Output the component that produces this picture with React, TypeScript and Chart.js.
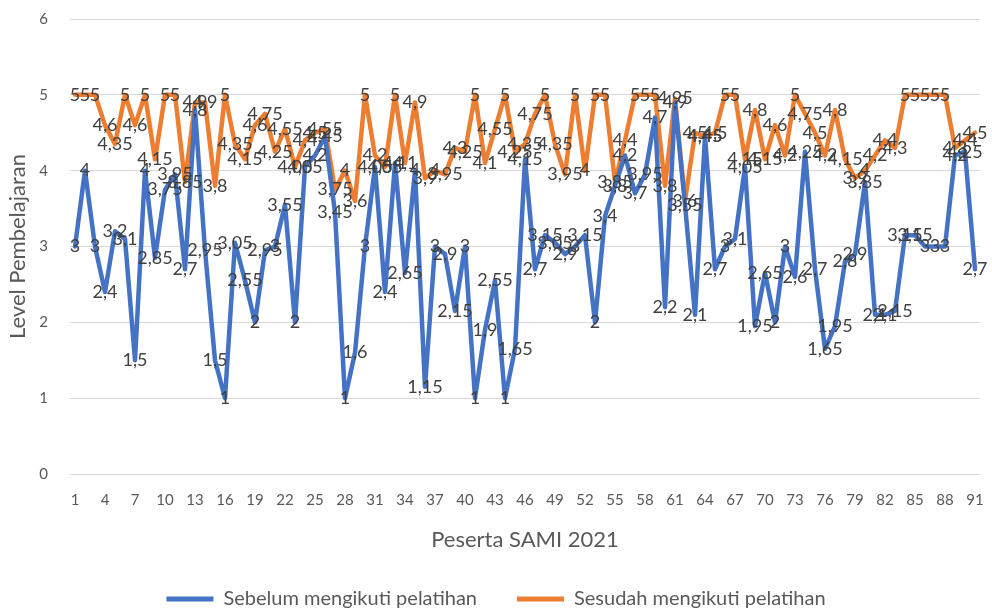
import React, { useEffect, useRef } from "react";
import { Chart, registerables } from "chart.js";

Chart.register(...registerables);

const categories: string[] = Array.from({ length: 91 }, (_, i) => String(i + 1));

const sebelum: number[] = [
  3, 4, 3, 2.4, 3.2, 3.1, 1.5, 4, 2.85, 3.75,
  3.95, 2.7, 4.8, 2.95, 1.5, 1, 3.05, 2.55, 2, 2.95,
  3, 3.55, 2, 4.05, 4.2, 4.45, 3.45, 1, 1.6, 3,
  4.05, 2.4, 4.1, 2.65, 4, 1.15, 3, 2.9, 2.15, 3,
  1, 1.9, 2.55, 1, 1.65, 4.15, 2.7, 3.15, 3.05, 2.9,
  3, 3.15, 2, 3.4, 3.8, 4.2, 3.7, 3.95, 4.7, 2.2,
  4.9, 3.55, 2.1, 4.45, 2.7, 3, 3.1, 4.05, 1.95, 2.65,
  2, 3, 2.6, 4.25, 2.7, 1.65, 1.95, 2.8, 2.9, 3.85,
  2.1, 2.1, 2.15, 3.15, 3.15, 3, 3, 3, 4.2, 4.25,
  2.7,
];

const sesudah: number[] = [
  5, 5, 5, 4.6, 4.35, 5, 4.6, 5, 4.15, 5,
  5, 3.85, 4.9, 4.9, 3.8, 5, 4.35, 4.15, 4.6, 4.75,
  4.25, 4.55, 4.05, 4.4, 4.5, 4.55, 3.75, 4, 3.6, 5,
  4.2, 4.05, 5, 4.1, 4.9, 3.9, 4, 3.95, 4.3, 4.25,
  5, 4.1, 4.55, 5, 4.25, 4.35, 4.75, 5, 4.35, 3.95,
  5, 4, 5, 5, 3.85, 4.4, 5, 5, 5, 3.8,
  4.95, 3.6, 4.5, 4.45, 4.5, 5, 5, 4.15, 4.8, 4.15,
  4.6, 4.2, 5, 4.75, 4.5, 4.2, 4.8, 4.15, 3.9, 4,
  4.2, 4.4, 4.3, 5, 5, 5, 5, 5, 4.3, 4.4,
  4.5,
];

const seriesNames: string[] = ["Sebelum mengikuti pelatihan", "Sesudah mengikuti pelatihan"];
const yTicks: number[] = [0, 1, 2, 3, 4, 5, 6];

const FONT = "Lato";
const TEXT = "#595959";

const dataLabelPlugin = {
  id: "dataLabels",
  afterDatasetsDraw(chart: any) {
    const ctx = chart.ctx;
    ctx.save();
    ctx.font = `18px ${FONT}`;
    ctx.fillStyle = "#404040";
    ctx.textAlign = "center";
    ctx.textBaseline = "middle";
    chart.data.datasets.forEach((ds: any, di: number) => {
      const meta = chart.getDatasetMeta(di);
      meta.data.forEach((el: any, i: number) => {
        const v = ds.data[i];
        ctx.fillText(String(v).replace(".", ","), el.x, el.y);
      });
    });
    ctx.restore();
  },
};

export default function App() {
  const ref = useRef<HTMLCanvasElement | null>(null);
  useEffect(() => {
    if (!ref.current) return;
    const chart = new Chart(ref.current, {
      type: "line",
      data: {
        labels: categories,
        datasets: [
          {
            label: seriesNames[0],
            data: sebelum,
            borderColor: "#4472C4",
            backgroundColor: "#4472C4",
            borderWidth: 4.5,
            pointRadius: 0,
            tension: 0,
            borderJoinStyle: "round",
            borderCapStyle: "round",
          },
          {
            label: seriesNames[1],
            data: sesudah,
            borderColor: "#ED7D31",
            backgroundColor: "#ED7D31",
            borderWidth: 4.5,
            pointRadius: 0,
            tension: 0,
            borderJoinStyle: "round",
            borderCapStyle: "round",
          },
        ],
      },
      options: {
        animation: false,
        responsive: false,
        maintainAspectRatio: false,
        layout: { padding: { top: 19, right: 12, bottom: 0, left: 12 } },
        plugins: {
          tooltip: { enabled: false },
          legend: {
            position: "bottom",
            labels: {
              font: { family: FONT, size: 20 },
              color: TEXT,
              boxWidth: 47,
              boxHeight: 5,
              padding: 40,
              generateLabels: (c: any) =>
                Chart.defaults.plugins.legend.labels
                  .generateLabels(c)
                  .map((l: any) => ({ ...l, lineWidth: 0, fillStyle: l.strokeStyle })),
            },
          },
        },
        scales: {
          x: {
            offset: true,
            grid: { display: false, drawTicks: false },
            border: { display: false },
            ticks: {
              autoSkip: false,
              maxRotation: 0,
              minRotation: 0,
              padding: 17,
              color: TEXT,
              font: { family: FONT, size: 15 },
              callback: (_v: any, i: number) => (i % 3 === 0 ? categories[i] : ""),
            },
            title: {
              display: true,
              text: "Peserta SAMI 2021",
              color: TEXT,
              font: { family: FONT, size: 22 },
              padding: { top: 0, bottom: -4 },
            },
            afterFit: (s: any) => {
              s.height = 75;
              s.paddingLeft = 0;
              s.paddingRight = 0;
            },
          },
          y: {
            min: 0,
            max: 6,
            afterBuildTicks: (s: any) => {
              s.ticks = yTicks.map((v) => ({ value: v }));
            },
            grid: { color: "#d9d9d9", lineWidth: 1, drawTicks: false },
            border: { display: false },
            ticks: {
              padding: 22,
              color: TEXT,
              font: { family: FONT, size: 15 },
            },
            title: {
              display: true,
              text: "Level Pembelajaran",
              color: TEXT,
              font: { family: FONT, size: 22 },
              padding: { top: -7, bottom: 0 },
            },
            afterFit: (s: any) => {
              s.width = 58;
              s.paddingTop = 0;
              s.paddingBottom = 0;
            },
          },
        },
      },
      plugins: [dataLabelPlugin],
    });
    return () => chart.destroy();
  }, []);
  return (
    <div style={{ position: "fixed", left: 0, top: 0, width: 992, height: 619, background: "#fff" }}>
      <canvas ref={ref} width={992} height={619} style={{ display: "block" }} />
    </div>
  );
}
